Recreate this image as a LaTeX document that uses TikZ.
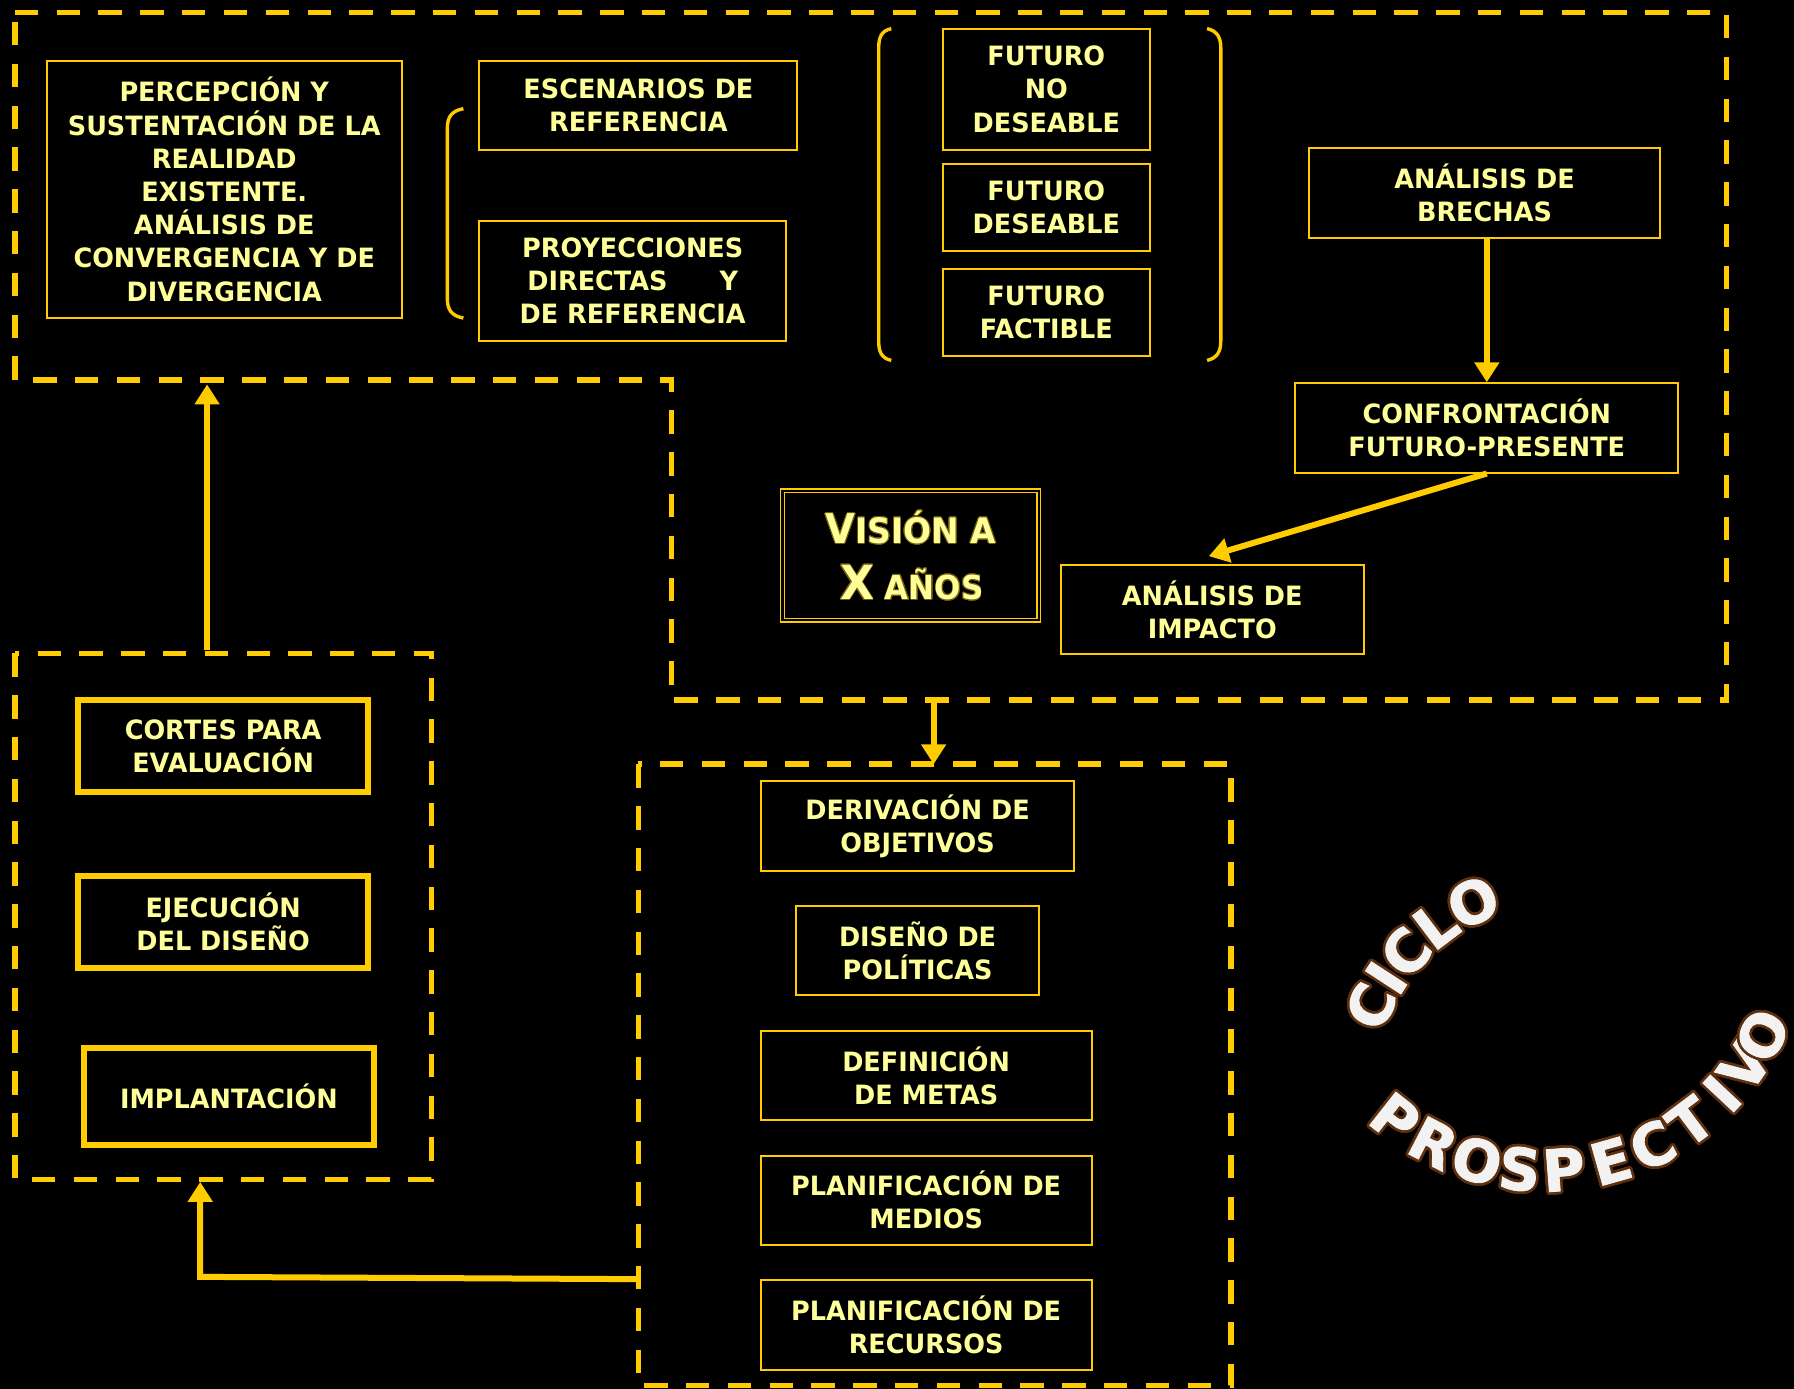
\documentclass[tikz,border=0pt]{standalone}
\usepackage{fontspec}
\usepackage[copies]{contour}
\usetikzlibrary{arrows.meta,fit,calc}
\newfontfamily\tahfont[FakeStretch=0.96]{DejaVu Sans}
\newfontfamily\visfont[FakeStretch=0.94]{DejaVu Sans}
\newfontfamily\cicfont[FakeBold=1.5]{DejaVu Sans}
\definecolor{gold}{RGB}{255,204,0}
\definecolor{paleyellow}{RGB}{255,255,153}
\definecolor{darkgold}{RGB}{110,90,10}
\definecolor{brownline}{RGB}{94,47,13}
\definecolor{letterfill}{RGB}{242,242,242}
\contourlength{1.3pt}
\contournumber{32}
\begin{document}
\begin{tikzpicture}[x=0.572pt,y=-0.572pt,
  box/.style={draw=gold, line width=1pt, inner sep=0pt},
  thickbox/.style={box, line width=3pt},
  lbl/.style={text=paleyellow, align=center, inner sep=0pt,
    font=\tahfont\bfseries\fontsize{13.3}{16.6}\selectfont},
  region/.style={draw=gold, line width=2.8pt, dash pattern=on 11.7pt off 9.2pt},
  flow/.style={draw=gold, line width=3pt, -{Triangle[width=12pt,length=10pt]}},
  bracket/.style={draw=gold, line width=1.7pt},
  ciclo/.style={text=letterfill, inner sep=0pt, font=\cicfont\bfseries\fontsize{29}{30}\selectfont},
  visbox/.style={draw=gold, double=black, double distance=1.2pt, line width=0.6pt, inner sep=0pt},
  vislbl/.style={text=paleyellow, font=\visfont\bfseries, inner sep=0pt, anchor=base},
]
\fill[black] (0,0) rectangle (1568,1214);
\useasboundingbox (0,0) rectangle (1568,1214);

% dashed regions
\draw[region] (13,11) -- (1509,11) -- (1509,612) -- (587,612) -- (587,332) -- (13,332) -- cycle;
\draw[region] (13,571) rectangle (377,1031);
\draw[region] (558,668) rectangle (1076,1211);

% top region boxes
\node[box, fit={(41,53) (351,278)}] (perc) {};
\node[lbl] (perc-t) at (perc.center) {PERCEPCIÓN Y\\SUSTENTACIÓN DE LA\\REALIDAD\\EXISTENTE.\\ANÁLISIS DE\\CONVERGENCIA Y DE\\DIVERGENCIA};
\node[box, fit={(419,53) (697,131)}] (escen) {};
\node[lbl] (escen-t) at (escen.center) {ESCENARIOS DE\\REFERENCIA};
\node[box, fit={(419,193) (687,298)}] (proy) {};
\node[lbl] (proy-t) at (proy.center) {PROYECCIONES\\DIRECTAS\hspace{26pt}Y\\DE REFERENCIA};
\node[box, fit={(824,25) (1005,131)}] (fnd) {};
\node[lbl] (fnd-t) at (fnd.center) {FUTURO\\NO\\DESEABLE};
\node[box, fit={(824,143) (1005,219)}] (fd) {};
\node[lbl] (fd-t) at (fd.center) {FUTURO\\DESEABLE};
\node[box, fit={(824,235) (1005,311)}] (ff) {};
\node[lbl] (ff-t) at (ff.center) {FUTURO\\FACTIBLE};
\node[box, fit={(1144,129) (1451,208)}] (brechas) {};
\node[lbl] (brechas-t) at (brechas.center) {ANÁLISIS DE\\BRECHAS};
\node[box, fit={(1132,335) (1467,413)}] (confront) {};
\node[lbl] (confront-t) at (confront.center) {CONFRONTACIÓN\\FUTURO-PRESENTE};
\node[box, fit={(927,494) (1192,572)}] (impacto) {};
\node[lbl] (impacto-t) at (impacto.center) {ANÁLISIS DE\\IMPACTO};
\node[visbox, fit={(684,429) (908,542)}] (vision) {};
\node[vislbl] (vis1) at (796,475)
  {\contourlength{0.3pt}\contour{darkgold}{{\fontsize{20.5}{24}\selectfont V}{\fontsize{17.5}{24}\selectfont ISIÓN A}}};
\node[vislbl] (vis2) at (797,524)
  {\contourlength{0.3pt}\contour{darkgold}{{\fontsize{23.5}{24}\selectfont X}{\fontsize{16.5}{24}\selectfont\ AÑOS}}};

% brackets
\draw[bracket] (405,95) .. controls (394,97) and (391,103) .. (391,112) -- (391,261) .. controls (391,270) and (394,276) .. (405,278);
\draw[bracket] (779,25) .. controls (770,27) and (768,33) .. (768,42) -- (768,298) .. controls (768,307) and (770,313) .. (779,315);
\draw[bracket] (1055,25) .. controls (1064,27) and (1067,33) .. (1067,42) -- (1067,298) .. controls (1067,307) and (1064,313) .. (1055,315);

% left region boxes
\node[thickbox, fit={(68,612) (322,692)}] (cortes) {};
\node[lbl] (cortes-t) at (cortes.center) {CORTES PARA\\EVALUACIÓN};
\node[thickbox, fit={(68,766) (322,846)}] (ejec) {};
\node[lbl] (ejec-t) at (ejec.center) {EJECUCIÓN\\DEL DISEÑO};
\node[thickbox, fit={(73,916) (327,1001)}] (impl) {};
\node[lbl] (impl-t) at (impl.center) {IMPLANTACIÓN};

% bottom region boxes
\node[box, fit={(665,683) (939,761)}] (deriv) {};
\node[lbl] (deriv-t) at (deriv.center) {DERIVACIÓN DE\\OBJETIVOS};
\node[box, fit={(696,792) (908,870)}] (diseno) {};
\node[lbl] (diseno-t) at (diseno.center) {DISEÑO DE\\POLÍTICAS};
\node[box, fit={(665,901) (954,979)}] (metas) {};
\node[lbl] (metas-t) at (metas.center) {DEFINICIÓN\\DE METAS};
\node[box, fit={(665,1010) (954,1088)}] (medios) {};
\node[lbl] (medios-t) at (medios.center) {PLANIFICACIÓN DE\\MEDIOS};
\node[box, fit={(665,1119) (954,1197)}] (recursos) {};
\node[lbl] (recursos-t) at (recursos.center) {PLANIFICACIÓN DE\\RECURSOS};

% connectors
\coordinate (lrtop) at (181,568);
\coordinate (trbot) at (181,336);
\coordinate (trdown) at (816,612);
\coordinate (brtop) at (816,668);
\coordinate (bsrc) at (558,1118);
\coordinate (bcorner) at (175,1116);
\coordinate (bdst) at (175,1033);
\draw[flow] (lrtop) -- (trbot);
\draw[flow] (trdown) -- (brtop);
\draw[flow] (confront.north |- brechas.south) -- (confront.north);
\draw[flow] (confront.south) -- ($(impacto.north)+(-3,-7)$);
\draw[flow] (bsrc) -- (bcorner) -- (bdst);

% CICLO PROSPECTIVO
\foreach \ch/\ang [count=\i] in {C/155.8, I/147.0, C/138.2, L/127.1, O/115.2}
  \node[ciclo, rotate=\ang-90] (cl\i) at ({1365.7+182.7*cos(\ang)},{954.8-182.7*sin(\ang)}) {\contour{brownline}{\ch}};
\foreach \ch/\ang [count=\i] in {P/-128.15, R/-117.4, O/-106.3, S/-96.0, P/-85.6, E/-74.2, C/-63.7, T/-53.1, I/-43.1, V/-34.7, O/-26.3}
  \node[ciclo, rotate=\ang+90] (pr\i) at ({1350.4+213*cos(\ang)},{811-213*sin(\ang)}) {\contour{brownline}{\ch}};
\end{tikzpicture}
\end{document}
